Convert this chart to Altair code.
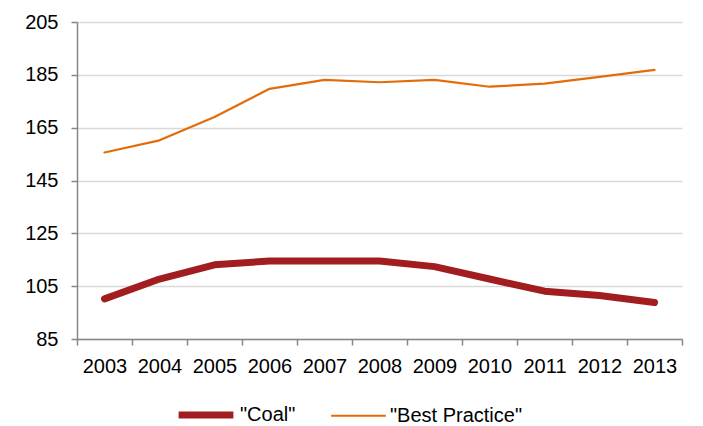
import altair as alt
import pandas as pd

years = ["2003", "2004", "2005", "2006", "2007", "2008", "2009", "2010", "2011", "2012", "2013"]
coal = [100.2, 107.7, 113.1, 114.5, 114.5, 114.5, 112.4, 107.7, 103.1, 101.5, 98.8]
best_practice = [155.6, 160.2, 169.0, 179.7, 183.1, 182.2, 183.1, 180.5, 181.7, 184.2, 186.9]
series_names = ['"Coal"', '"Best Practice"']
y_ticks = [85, 105, 125, 145, 165, 185, 205]

rows = []
for name, vals in zip(series_names, [coal, best_practice]):
    for yr, v in zip(years, vals):
        rows.append({"year": yr, "value": v, "series": name})
df = pd.DataFrame(rows)

FONT = "Liberation Sans"

leg = dict(title=None, orient="none", direction="horizontal",
           legendX=98, legendY=362,
           symbolType="stroke", symbolSize=3000,
           labelFont=FONT, labelFontSize=20, labelColor="#000000",
           labelOffset=3, columnPadding=30)

chart = alt.Chart(df).mark_line(strokeCap="round", strokeJoin="round").encode(
    x=alt.X("year:O", bandPosition=0.5,
            scale=alt.Scale(type="band", domain=years, paddingInner=0, paddingOuter=0),
            axis=alt.Axis(title=None, labelAngle=0, tickBand="extent", grid=False,
                          domainColor="#868686", domainWidth=1.5, tickColor="#868686",
                          tickWidth=1.5, tickSize=6, labelPadding=11,
                          labelFont=FONT, labelFontSize=20, labelColor="#000000")),
    y=alt.Y("value:Q",
            scale=alt.Scale(domain=[85, 205], nice=False, zero=False),
            axis=alt.Axis(title=None, values=y_ticks, grid=True, gridColor="#D9D9D9",
                          gridWidth=1.3, domainColor="#868686", domainWidth=1.5,
                          tickColor="#868686", tickWidth=1.5, tickSize=6, labelPadding=13,
                          labelFont=FONT, labelFontSize=20, labelColor="#000000")),
    color=alt.Color("series:N",
                    scale=alt.Scale(domain=series_names, range=["#A21D20", "#E36C09"]),
                    legend=alt.Legend(**leg)),
    strokeWidth=alt.StrokeWidth("series:N",
                                scale=alt.Scale(domain=series_names, range=[7, 2.2]),
                                legend=alt.Legend(**leg)),
).properties(
    width=605, height=317,
    autosize=alt.AutoSizeParams(type="none"),
    padding={"left": 77, "top": 22, "right": 21, "bottom": 87},
    background="white",
).configure_view(stroke=None)

chart.save("out.html", embed_options={"renderer": "svg", "actions": False})
